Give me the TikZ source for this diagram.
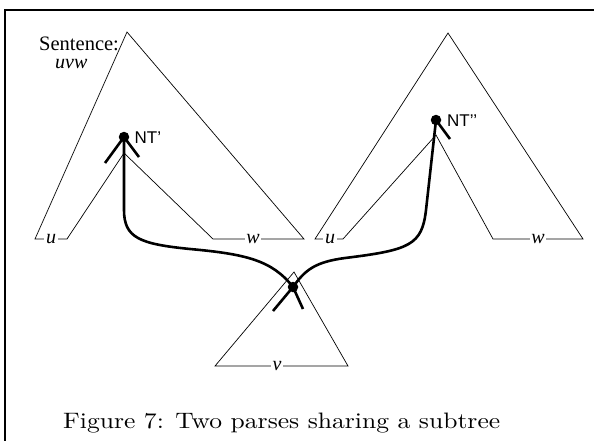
\documentclass[tikz,border=0pt]{standalone}
\usepackage{fontspec}
\usepackage{graphicx}
\newfontfamily\tnr{Liberation Serif}
\newfontfamily\hlv{Liberation Sans}
\begin{document}
\begin{tikzpicture}[x=1pt,y=-1pt,
  tree/.style={line width=0.7pt, line join=miter},
  lbl/.style={fill=white, inner sep=1.8pt, font=\tnr\itshape\fontsize{20}{22}\selectfont},
  ntdot/.style={circle, fill=black, minimum size=10.5pt, inner sep=0pt},
  ntname/.style={anchor=base west, inner sep=0pt, font=\hlv\fontsize{17}{19}\selectfont},
  link/.style={line width=2.6pt},
  arm/.style={line width=2.6pt}]
\useasboundingbox (0,0) rectangle (594,440);
% frame
\draw[line width=2pt] (5,441) -- (5,9.7) -- (595,9.7);
% left tree
\draw[tree] (304,239) -- (127,32) -- (35,239) -- (67,239) -- (124,153) -- (213,239) -- cycle;
\node[lbl] (u1) at (51,239) {u};
\node[lbl] (w1) at (253,239) {w};
\node[anchor=base west, inner sep=0pt, font=\tnr\fontsize{20.5}{23}\selectfont] (sent) at (39,50) {Sentence:};
\node[anchor=base west, inner sep=0pt, font=\tnr\itshape\fontsize{20}{22}\selectfont] (uvw) at (55,68) {uvw};
% right tree
\draw[tree] (583,239) -- (448,33) -- (315,239) -- (343,239) -- (436,135) -- (493,239) -- cycle;
\node[lbl] (u2) at (330,239) {u};
\node[lbl] (w2) at (538,239) {w};
% bottom tree
\draw[tree] (294,272) -- (215,366) -- (348,366) -- cycle;
\node[lbl] (v) at (277,366) {v};
% shared nodes
\node[ntdot] (nt1) at (124,137) {};
\node[ntdot] (nt2) at (436,120) {};
\node[ntdot] (sh) at (293,287) {};
\node[ntname] (nt1l) at (134.5,143) {NT’};
\node[ntname] (nt2l) at (447,126) {NT’’};
% arrow arms
\draw[arm] (nt1.center) -- ++(-19,26);
\draw[arm] (nt1.center) -- ++(15,20);
\draw[arm] (nt2.center) -- ++(14,19);
\draw[arm] (sh.center) -- ++(-20,24);
\draw[arm] (sh.center) -- ++(10,22);
% links
\draw[link] (nt1.center) -- (124,210) .. controls (124,238) and (140,244) .. (190,249)
  .. controls (245,254) and (272,260) .. (sh.center);
\draw[link] (sh.center) .. controls (305,270) and (315,262) .. (345,258)
  .. controls (410,250) and (422,245) .. (426,210) -- (nt2.center);
% caption
\node[anchor=base west, inner sep=0pt] (cap) at (63,428) {\resizebox{437pt}{15.5pt}{Figure 7: Two parses sharing a subtree}};
\end{tikzpicture}
\end{document}
